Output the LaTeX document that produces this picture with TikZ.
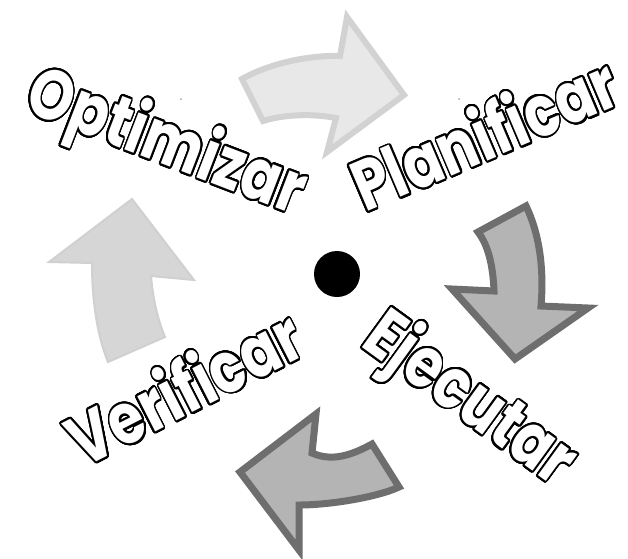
\documentclass[tikz,border=0pt]{standalone}
\usepackage{fontspec}
\setmainfont{Poppins}
\usepackage{contour}
\contourlength{1.7pt}
\contournumber{32}
\definecolor{lightfill}{HTML}{E8E8E8}
\definecolor{lightedge}{HTML}{D2D2D2}
\definecolor{upfill}{HTML}{D6D6D6}
\definecolor{upedge}{HTML}{D0D0D0}
\definecolor{darkfill}{HTML}{B4B4B4}
\definecolor{darkedge}{HTML}{6E6E6E}
\newcommand{\wordtext}[1]{\scalebox{0.95}[1.18]{\contour{black}{#1}}}
\tikzset{
  word/.style={font=\bfseries\fontsize{60}{60}\selectfont, text=white, inner sep=0pt},
  lightarrow/.style={fill=lightfill, draw=lightedge, line width=6pt, line join=miter},
  uparrow/.style={fill=upfill, draw=upedge, line width=2pt, line join=miter},
  darkarrow/.style={fill=darkfill, draw=darkedge, line width=7pt, line join=miter},
  speck/.style={fill=gray!70, draw=none, circle, inner sep=0pt, minimum size=2pt}
}
\begin{document}
\begin{tikzpicture}[x=1pt,y=-1pt]
\useasboundingbox (0,0) rectangle (628,558);
\fill[white] (0,0) rectangle (628,558);
% top arrow (pointing right)
\draw[lightarrow] (242,79) .. controls (270,63) and (310,55) .. (340,56)
  -- (347,17) -- (404,95) -- (327,152) -- (336,118)
  .. controls (310,113) and (282,115) .. (263,121) -- cycle;
% right arrow (pointing down)
\draw[darkarrow] (478,232) -- (526,206)
  .. controls (540,235) and (544,270) .. (541,306)
  -- (588,308) -- (515,359) -- (452,289) -- (494,291)
  .. controls (493,265) and (488,245) .. cycle;
% bottom arrow (pointing left)
\draw[darkarrow] (240,472) -- (316,414) -- (312,453)
  .. controls (332,462) and (352,455) .. (372,444)
  -- (399,487)
  .. controls (378,497) and (330,505) .. (299,505)
  -- (299,550) -- cycle;
% left arrow (pointing up)
\draw[uparrow] (132,199) -- (194,280) -- (151,276)
  .. controls (153,300) and (158,320) .. (165,337)
  -- (108,362)
  .. controls (97,335) and (92,300) .. (92,263)
  -- (49,262) -- cycle;
% centre dot
\node[circle, fill=black, minimum size=46pt, inner sep=0pt] (centre) at (337,274) {};
% specks
\node[speck] (s1) at (181,99) {};
\node[speck] (s2) at (459,99) {};
% words
\node[word, rotate=-21] (opt) at (165,146) {\wordtext{Optimizar}};
\node[word, rotate=23] (plan) at (484,133) {\wordtext{Planificar}};
\node[word, rotate=-36] (ejec) at (468,402) {\wordtext{Ejecutar}};
\node[word, rotate=27] (veri) at (184,387) {\wordtext{Verificar}};
\end{tikzpicture}
\end{document}
